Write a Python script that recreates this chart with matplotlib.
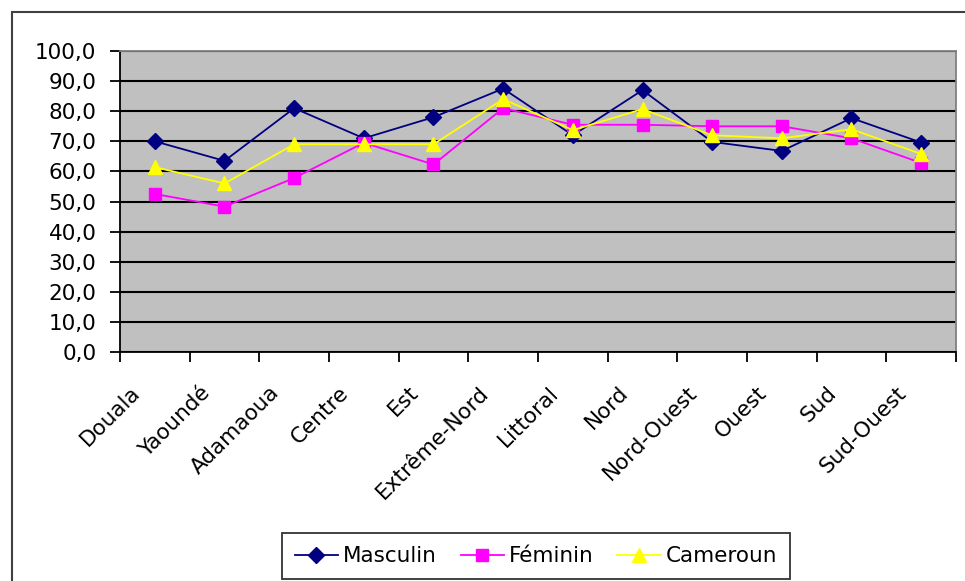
import matplotlib
matplotlib.use("Agg")
import matplotlib.pyplot as plt
from matplotlib.patches import Rectangle
from matplotlib.ticker import MultipleLocator, FuncFormatter
from matplotlib.transforms import ScaledTranslation

plt.rcParams['font.family'] = ['DejaVu Sans']

regions = ['Douala', 'Yaoundé', 'Adamaoua', 'Centre', 'Est', 'Extrême-Nord',
           'Littoral', 'Nord', 'Nord-Ouest', 'Ouest', 'Sud', 'Sud-Ouest']
masculin = [70.0, 63.5, 81.0, 71.0, 78.0, 87.5, 72.0, 87.0, 69.8, 66.8, 77.7, 69.6]
feminin = [52.5, 48.3, 57.8, 69.5, 62.3, 81.0, 75.5, 75.5, 75.0, 75.0, 71.0, 62.8]
cameroun = [61.4, 56.0, 69.0, 69.0, 69.0, 84.0, 73.7, 80.7, 72.0, 71.0, 74.0, 65.8]

fig = plt.figure(figsize=(9.65, 5.81), dpi=100)
ax = fig.add_axes([120 / 965, 1 - 352 / 581, 836 / 965, 301 / 581])
ax.set_facecolor('#C0C0C0')

x = range(len(regions))
ax.plot(x, masculin, color='#000080', marker='D', markersize=8, lw=1.3, label='Masculin')
ax.plot(x, feminin, color='#FF00FF', marker='s', markersize=9, lw=1.3, label='Féminin')
ax.plot(x, cameroun, color='#FFFF00', marker='^', markersize=10, lw=1.3, label='Cameroun')

ax.set_xlim(-0.5, len(regions) - 0.5)
ax.set_ylim(0, 100)
ax.yaxis.set_major_locator(MultipleLocator(10))
ax.yaxis.set_major_formatter(FuncFormatter(lambda v, p: f'{v:.1f}'.replace('.', ',')))
ax.yaxis.grid(True, color='black', lw=1.5)
ax.set_axisbelow(True)

# ticks between categories
ax.set_xticks([i - 0.5 for i in range(len(regions) + 1)])
ax.set_xticklabels([])
ax.tick_params(axis='x', length=7, width=1.3, direction='out')
ax.tick_params(axis='y', length=7, width=1.3, labelsize=15.5, pad=10)

# category labels, rotated, ending left of the category centre
shift = ScaledTranslation(-18 / 72, -22 / 72, fig.dpi_scale_trans)
for i, name in enumerate(regions):
    ax.text(i, 0, name, transform=ax.get_xaxis_transform() + shift, rotation=45,
            ha='right', va='top', rotation_mode='anchor', fontsize=15.5)

for s in ['top', 'right']:
    ax.spines[s].set_color('#808080')
    ax.spines[s].set_linewidth(1.3)
for s in ['left', 'bottom']:
    ax.spines[s].set_color('black')
    ax.spines[s].set_linewidth(1.3)

leg = ax.legend(loc='lower center', bbox_to_anchor=(536 / 965, 2 / 581),
                bbox_transform=fig.transFigure, ncol=3, fontsize=15.5, frameon=True,
                fancybox=False, edgecolor='black', handlelength=2.0, borderaxespad=0,
                handletextpad=0.25, columnspacing=1.1, borderpad=0.6)
leg.get_frame().set_linewidth(1.3)

# outer chart frame
fig.patches.append(Rectangle((12 / 965, -0.1), 1.1, 0.1 + 1 - 12 / 581, transform=fig.transFigure,
                             fill=False, edgecolor='#404040', lw=1.5))

fig.savefig('out.png', dpi=100)
